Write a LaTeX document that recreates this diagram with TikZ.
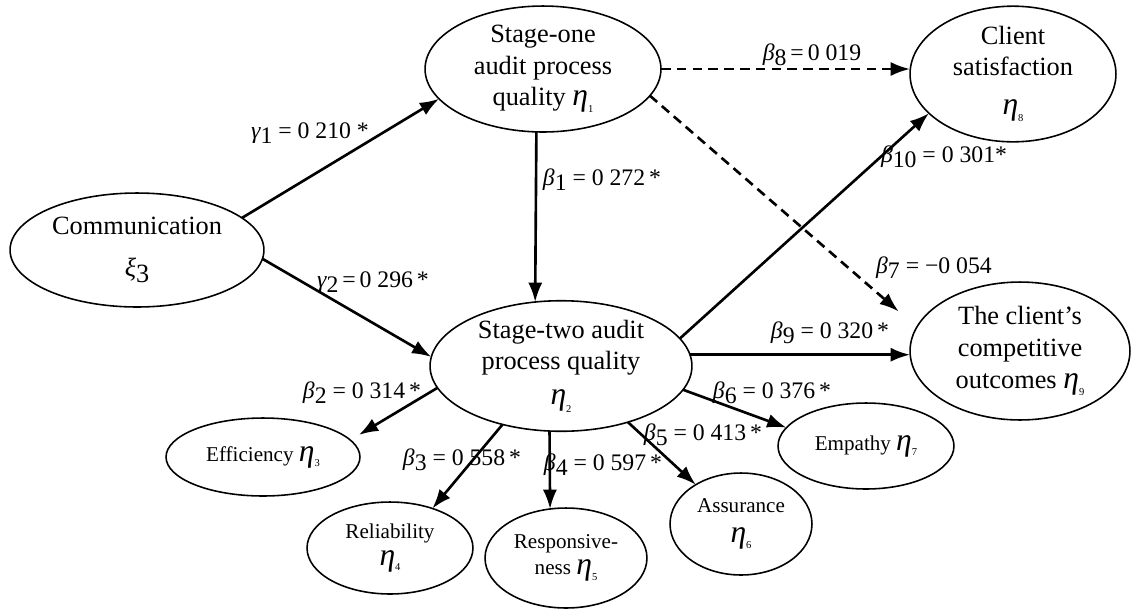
\documentclass[tikz,border=0pt]{standalone}
\usepackage{fontspec}
\setmainfont{Liberation Serif}
\usetikzlibrary{shapes.geometric,arrows.meta}
\newcommand\etasub[1]{{\fontsize{18}{18}\selectfont\itshape η}\raisebox{-0.6ex}{\fontsize{6}{6}\selectfont #1}}
\newcommand\gsym[2]{{\itshape #1}\raisebox{-0.45ex}{#2}}
\begin{document}
\begin{tikzpicture}[x=0.02cm,y=-0.02cm,
  el/.style 2 args={ellipse,draw,line width=0.9pt,inner sep=0pt,outer sep=0pt,
    minimum width=#1*0.04cm,minimum height=#2*0.04cm,align=center},
  big/.style={font=\fontsize{15}{18}\selectfont},
  small/.style={font=\fontsize{12}{15}\selectfont},
  arr/.style={line width=1.5pt,-{Latex[length=11pt,width=8pt]}},
  darr/.style={arr,dash pattern=on 5.5pt off 3.5pt},
  lab/.style={font=\fontsize{13.5}{16}\selectfont,inner sep=1pt}]
\useasboundingbox (0,0) rectangle (1134,610);

\node[el={118}{63},big] (s1) at (543,69) {Stage-one\\audit process\\quality \etasub{1}};
\node[el={103}{63},big] (sat) at (1013,74) {Client\\satisfaction\\[4pt]\etasub{8}};
\node[el={127}{57},big] (comm) at (137,250) {Communication\\[6pt]\gsym{ξ}{3}};
\node[el={131}{64},big] (s2) at (561,366) {Stage-two audit\\process quality\\[2pt]\etasub{2}};
\node[el={110}{69},big] (comp) at (1020,351) {The client’s\\competitive\\outcomes \etasub{9}};
\node[el={97}{39},small] (eff) at (263,457) {Efficiency \etasub{3}};
\node[el={83}{46},small] (rel) at (390,548) {Reliability\\\etasub{4}};
\node[el={81}{50},small] (resp) at (566,558) {Responsive-\\ness \etasub{5}};
\node[el={71}{51},small] (asr) at (741,524) {Assurance\\[2pt]\etasub{6}};
\node[el={88}{43},small] (emp) at (866,446) {Empathy \etasub{7}};

\draw[arr] (comm.17) -- (s1.196);
\draw[arr] (comm.-4) -- (s2.176);
\draw[arr] (s1.264) -- (s2.112);
\draw[darr] (s1.east) -- (sat.west |- s1.east);
\draw[darr,shorten >=0.48cm] (s1.-14) -- (comp.167);
\draw[arr] (s2.13) -- (sat.205);
\draw[arr] (s2.5) -- (comp.west |- s2.5);
\draw[arr] (s2.-11) -- (emp.167);
\draw[arr] (s2.-40) -- (asr.139);
\draw[arr] (s2.260) -- (resp.108);
\draw[arr] (s2.225) -- (rel.43);
\draw[arr,shorten >=0.2cm] (s2.190) -- (eff.11);

\node[lab] (g1) at (310,133) {\gsym{γ}{1} = 0 210 *};
\node[lab] (g2) at (373,282) {\gsym{γ}{2}\,=\,0 296\,*};
\node[lab] (b1) at (602,180) {\gsym{β}{1} = 0 272\,*};
\node[lab] (b8) at (812,55) {\gsym{β}{8}\,=\,0 019};
\node[lab] (b7) at (934,268) {\gsym{β}{7} = −0 054};
\node[lab] (b10) at (944,157) {\gsym{β}{10} = 0 301*};
\node[lab] (b9) at (830,333) {\gsym{β}{9} = 0 320\,*};
\node[lab] (b6) at (772,393) {\gsym{β}{6} = 0 376\,*};
\node[lab] (b5) at (703,435) {\gsym{β}{5} = 0 413\,*};
\node[lab] (b4) at (603,465) {\gsym{β}{4} = 0 597\,*};
\node[lab] (b3) at (462,460) {\gsym{β}{3} = 0 558\,*};
\node[lab] (b2) at (362,393) {\gsym{β}{2} = 0 314\,*};
\end{tikzpicture}
\end{document}
